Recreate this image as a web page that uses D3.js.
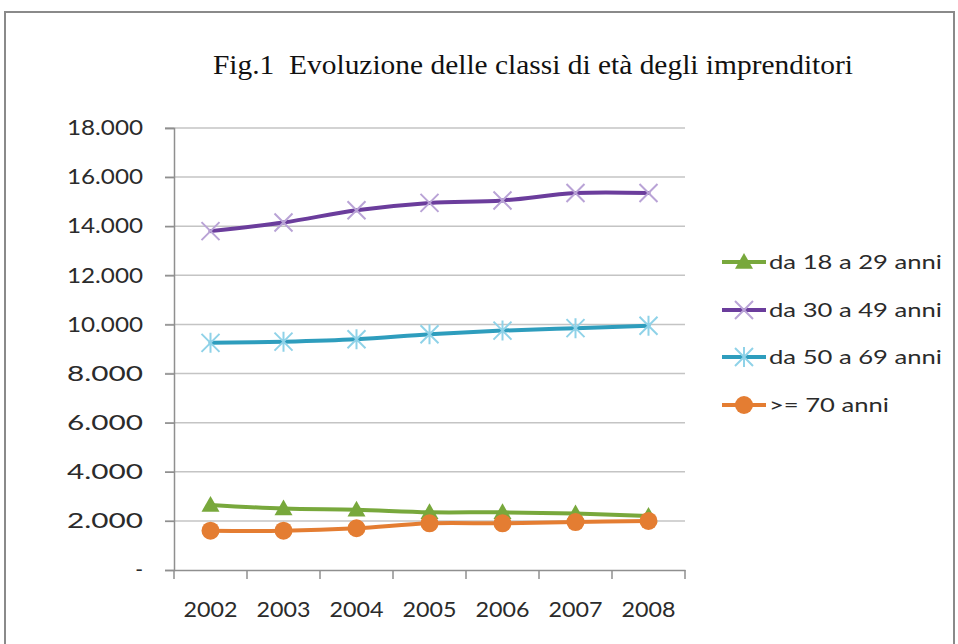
<!DOCTYPE html>
<html>
<head>
<meta charset="utf-8">
<script src="https://cdn.jsdelivr.net/npm/d3@7"></script>
<style>
	html, body { margin: 0; padding: 0; background: #fff; }
	svg { display: block; }
	.tick-label { font-family: Lato, "Open Sans", sans-serif; fill: #2b2b2b; }
	.title { font-family: "Liberation Serif", "DejaVu Serif", serif; fill: #111; white-space: pre; }
</style>
</head>
<body>
<svg id="chart" width="958" height="644"></svg>
<script>
/*global d3 */
(function () {
	'use strict';
	var years = ['2002', '2003', '2004', '2005', '2006', '2007', '2008'],
		yTicks = [0, 2000, 4000, 6000, 8000, 10000, 12000, 14000, 16000, 18000],
		age18to29 = [2650, 2500, 2450, 2350, 2350, 2300, 2200],
		age30to49 = [13800, 14150, 14650, 14950, 15050, 15350, 15350],
		age50to69 = [9250, 9300, 9400, 9600, 9750, 9850, 9950],
		age70plus = [1600, 1600, 1700, 1900, 1900, 1950, 2000],
		seriesNames = ['da 18 a 29 anni', 'da 30 a 49 anni', 'da 50 a 69 anni', '>= 70 anni'],
		series, svg, x, y, line, margin,
		// functions
		drawFrame, drawGrid, drawAxes, drawSeries, drawMarker, drawLegend, fmt;

	series = [
		{ name: seriesNames[0], values: age18to29, color: '#78a83c', marker: 'triangle', markColor: '#78a83c' },
		{ name: seriesNames[1], values: age30to49, color: '#6b3d9c', marker: 'x', markColor: '#b9a3d6' },
		{ name: seriesNames[2], values: age50to69, color: '#2e9dbd', marker: 'star', markColor: '#8fd2e8' },
		{ name: seriesNames[3], values: age70plus, color: '#e47d32', marker: 'circle', markColor: '#e47d32' }
	];

	margin = { left: 174, right: 685, top: 128, bottom: 570 };
	svg = d3.select('#chart');

	x = d3.scaleBand().domain(years).range([margin.left, margin.right]);
	y = d3.scaleLinear().domain([0, 18000]).range([margin.bottom, margin.top]);

	// excel uses a dot for thousands, and a dash for zero
	fmt = function (v) {
		if (v === 0) {
			return '-';
		}
		return d3.format(',')(v).replace(/,/g, '.');
	};

	drawFrame = function () {
		svg.append('rect')
			.attr('x', 5).attr('y', 12)
			.attr('width', 949).attr('height', 660)
			.attr('fill', '#fff')
			.attr('stroke', '#8a8a8a')
			.attr('stroke-width', 2);

		svg.append('text')
			.attr('class', 'title')
			.attr('x', 213).attr('y', 74)
			.attr('font-size', 27)
			.attr('textLength', 640)
			.attr('lengthAdjust', 'spacingAndGlyphs')
			.text('Fig.1  Evoluzione delle classi di età degli imprenditori');
	};

	drawGrid = function () {
		svg.append('g')
			.selectAll('line')
			.data(yTicks.filter(function (d) { return d > 0; }))
			.enter().append('line')
			.attr('x1', margin.left - 9)
			.attr('x2', margin.right)
			.attr('y1', function (d) { return y(d); })
			.attr('y2', function (d) { return y(d); })
			.attr('stroke', '#c4c4c4')
			.attr('stroke-width', 1.5);
	};

	drawAxes = function () {
		var yAxis, xAxis, bounds;

		yAxis = svg.append('g')
			.attr('transform', 'translate(' + margin.left + ',0)')
			.call(d3.axisLeft(y).tickValues(yTicks).tickSize(9).tickPadding(22).tickFormat(fmt));
		yAxis.select('.domain').attr('stroke', '#8f8f8f').attr('stroke-width', 1.5);
		yAxis.selectAll('.tick line').attr('stroke', '#8f8f8f').attr('stroke-width', 1.5);
		yAxis.selectAll('.tick text')
			.attr('class', 'tick-label')
			.attr('font-size', 21)
			.attr('textLength', function (d) { return d === 0 ? null : 76; })
			.attr('lengthAdjust', 'spacingAndGlyphs');

		xAxis = svg.append('g')
			.attr('transform', 'translate(0,' + margin.bottom + ')')
			.call(d3.axisBottom(x).tickSize(0).tickPadding(32));
		xAxis.select('.domain').attr('stroke', '#8f8f8f').attr('stroke-width', 1.5);
		xAxis.selectAll('.tick text')
			.attr('class', 'tick-label')
			.attr('font-size', 21)
			.attr('textLength', 54)
			.attr('lengthAdjust', 'spacingAndGlyphs');

		// band boundary ticks, like excel's category axis
		bounds = years.map(function (d) { return x(d); }).concat([margin.right]);
		xAxis.selectAll('line.band-tick')
			.data(bounds)
			.enter().append('line')
			.attr('class', 'band-tick')
			.attr('x1', function (d) { return d; })
			.attr('x2', function (d) { return d; })
			.attr('y1', 0).attr('y2', 9)
			.attr('stroke', '#8f8f8f')
			.attr('stroke-width', 1.5);
	};

	drawMarker = function (g, type, cx, cy, color) {
		var r;
		if (type === 'triangle') {
			r = 9;
			g.append('path')
				.attr('d', 'M' + cx + ',' + (cy - r) + 'L' + (cx + r) + ',' + (cy + r * 0.75) + 'L' + (cx - r) + ',' + (cy + r * 0.75) + 'Z')
				.attr('fill', color);
		} else if (type === 'circle') {
			g.append('circle')
				.attr('cx', cx).attr('cy', cy).attr('r', 9)
				.attr('fill', color);
		} else if (type === 'x') {
			r = 9;
			g.append('path')
				.attr('d', 'M' + (cx - r) + ',' + (cy - r) + 'L' + (cx + r) + ',' + (cy + r) +
					'M' + (cx - r) + ',' + (cy + r) + 'L' + (cx + r) + ',' + (cy - r))
				.attr('stroke', color).attr('stroke-width', 2).attr('fill', 'none');
		} else if (type === 'star') {
			r = 9;
			g.append('path')
				.attr('d', 'M' + (cx - r) + ',' + (cy - r) + 'L' + (cx + r) + ',' + (cy + r) +
					'M' + (cx - r) + ',' + (cy + r) + 'L' + (cx + r) + ',' + (cy - r) +
					'M' + cx + ',' + (cy - r - 1) + 'L' + cx + ',' + (cy + r + 1))
				.attr('stroke', color).attr('stroke-width', 2).attr('fill', 'none');
		}
	};

	drawSeries = function () {
		var cx = function (d, i) { return x(years[i]) + x.bandwidth() / 2; };
		line = d3.line()
			.x(cx)
			.y(function (d) { return y(d); })
			.curve(d3.curveCatmullRom.alpha(0.5));

		series.forEach(function (s) {
			var g = svg.append('g');
			g.append('path')
				.datum(s.values)
				.attr('d', line)
				.attr('fill', 'none')
				.attr('stroke', s.color)
				.attr('stroke-width', 4)
				.attr('stroke-linecap', 'round');
			s.values.forEach(function (v, i) {
				drawMarker(g, s.marker, cx(v, i), y(v), s.markColor);
			});
		});
	};

	drawLegend = function () {
		var legend = svg.append('g'),
			rowY = [262, 310, 357, 405];
		series.forEach(function (s, i) {
			var g = legend.append('g');
			g.append('line')
				.attr('x1', 722).attr('x2', 766)
				.attr('y1', rowY[i]).attr('y2', rowY[i])
				.attr('stroke', s.color).attr('stroke-width', 4);
			drawMarker(g, s.marker, 744, rowY[i], s.markColor);
			g.append('text')
				.attr('class', 'tick-label')
				.attr('x', 769).attr('y', rowY[i] + 7)
				.attr('font-size', 20)
				.attr('textLength', i === 3 ? 120 : 173)
				.attr('lengthAdjust', 'spacingAndGlyphs')
				.text(s.name);
		});
	};

	drawFrame();
	drawGrid();
	drawAxes();
	drawSeries();
	drawLegend();
}());
</script>
</body>
</html>
